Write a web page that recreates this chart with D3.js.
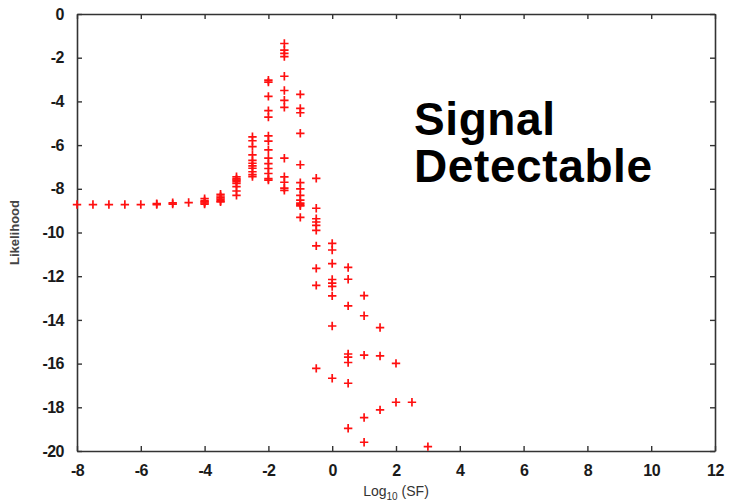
<!DOCTYPE html>
<html>
<head>
<meta charset="utf-8">
<script src="https://cdn.jsdelivr.net/npm/d3@7/dist/d3.min.js"></script>
<style>
  html, body { margin: 0; padding: 0; background: #fff; }
  svg { display: block; }
</style>
</head>
<body>
<script>
// log10 of the scale factor, one column of likelihood samples per value
const logSF = [-8, -7.5, -7, -6.5, -6, -5.5, -5, -4.5, -4, -3.5, -3, -2.5, -2, -1.5, -1, -0.5, 0, 0.5, 1, 1.5, 2, 2.5, 3];

const likelihood = [
  [-8.72],
  [-8.72],
  [-8.72],
  [-8.72],
  [-8.72],
  [-8.68, -8.72],
  [-8.64, -8.7],
  [-8.63],
  [-8.45, -8.55, -8.6, -8.65, -8.7],
  [-8.25, -8.33, -8.4, -8.47, -8.55, -8.6],
  [-7.45, -7.55, -7.6, -7.67, -7.75, -7.9, -8.1, -8.3],
  [-5.62, -5.8, -6.07, -6.45, -6.7, -6.83, -6.95, -7.06, -7.22, -7.35, -7.44],
  [-3.03, -3.12, -3.77, -4.42, -4.72, -5.58, -5.82, -6.22, -6.6, -6.85, -7.07, -7.3, -7.53, -7.6],
  [-1.35, -1.65, -1.8, -1.95, -2.85, -3.5, -3.95, -4.27, -6.6, -7.45, -7.7, -7.97, -8.07],
  [-3.68, -4.32, -4.52, -5.46, -6.9, -7.72, -8.0, -8.3, -8.52, -8.66, -8.72, -8.78, -9.31],
  [-7.52, -8.89, -9.37, -9.52, -9.67, -9.9, -10.61, -11.64, -12.42, -16.22],
  [-10.5, -10.8, -11.42, -12.15, -12.32, -12.47, -12.9, -14.28, -16.67],
  [-11.6, -12.14, -13.36, -15.56, -15.7, -15.95, -16.9, -18.96],
  [-12.89, -13.81, -15.61, -18.47, -19.6],
  [-14.35, -15.65, -18.12],
  [-15.99, -17.77],
  [-17.77],
  [-19.8]
];

const xTicks = [-8, -6, -4, -2, 0, 2, 4, 6, 8, 10, 12];
const yTicks = [0, -2, -4, -6, -8, -10, -12, -14, -16, -18, -20];

const W = 729, H = 503;
const plot = { left: 77, right: 715, top: 14, bottom: 451 };

const svg = d3.select("body").append("svg")
  .attr("width", W).attr("height", H);

const x = d3.scaleLinear().domain([-8, 12]).range([plot.left, plot.right]);
const y = d3.scaleLinear().domain([-20, 0]).range([plot.bottom, plot.top]);

const tickFont = "'Liberation Sans', Arial, sans-serif";
const axisColor = "#333";

// frame axes with inward ticks on all four sides
const bottomAxis = d3.axisBottom(x).tickValues(xTicks).tickSizeInner(-5).tickSizeOuter(0).tickPadding(14);
const topAxis = d3.axisTop(x).tickValues(xTicks).tickSizeInner(-5).tickSizeOuter(0).tickFormat("");
const leftAxis = d3.axisLeft(y).tickValues(yTicks).tickSizeInner(-5).tickSizeOuter(0).tickPadding(13);
const rightAxis = d3.axisRight(y).tickValues(yTicks).tickSizeInner(-5).tickSizeOuter(0).tickFormat("");

function styleAxis(g) {
  g.select(".domain").attr("stroke", axisColor).attr("stroke-width", 1.6);
  g.selectAll(".tick line").attr("stroke", axisColor).attr("stroke-width", 1.4);
  g.selectAll(".tick text")
    .attr("fill", "#1a1a1a")
    .style("font-family", tickFont)
    .style("font-size", "16px")
    .style("font-weight", "bold")
    .style("letter-spacing", "-0.5px");
}

svg.append("g").attr("transform", `translate(0,${plot.bottom})`).call(bottomAxis).call(styleAxis);
svg.append("g").attr("transform", `translate(0,${plot.top})`).call(topAxis).call(styleAxis);
svg.append("g").attr("transform", `translate(${plot.left},0)`).call(leftAxis).call(styleAxis);
svg.append("g").attr("transform", `translate(${plot.right},0)`).call(rightAxis).call(styleAxis);

// plain hyphen for negative tick labels
svg.selectAll(".tick text").text(function() { return d3.select(this).text().replace("\u2212", "-"); });

// scatter of red plus markers
const points = [];
logSF.forEach((lx, i) => likelihood[i].forEach(v => points.push([lx, v])));

const arm = 4.2;
svg.append("g").selectAll("path.pt")
  .data(points)
  .join("path")
  .attr("class", "pt")
  .attr("d", d => {
    const px = x(d[0]), py = y(d[1]);
    return `M${px - arm},${py}H${px + arm}M${px},${py - arm}V${py + arm}`;
  })
  .attr("stroke", "#ff1010")
  .attr("stroke-width", 1.7)
  .attr("fill", "none");

// axis titles
const xt = svg.append("text")
  .attr("x", (plot.left + plot.right) / 2)
  .attr("y", 496)
  .attr("text-anchor", "middle")
  .attr("fill", "#333")
  .style("font-family", tickFont)
  .style("font-size", "14px");
xt.append("tspan").text("Log");
xt.append("tspan").attr("dy", 4).style("font-size", "10px").text("10");
xt.append("tspan").attr("dy", -4).text(" (SF)");

svg.append("text")
  .attr("transform", `translate(19,${(plot.top + plot.bottom) / 2}) rotate(-90)`)
  .attr("text-anchor", "middle")
  .attr("fill", "#444")
  .style("font-family", tickFont)
  .style("font-size", "13px")
  .style("font-weight", "bold")
  .text("Likelihood");

// annotation, two lines
const noteLines = ["Signal", "Detectable"];
svg.append("g").selectAll("text.note")
  .data(noteLines)
  .join("text")
  .attr("class", "note")
  .attr("x", 414)
  .attr("y", (d, i) => 135 + i * 47)
  .attr("fill", "#000")
  .style("font-family", tickFont)
  .style("font-size", "46px")
  .style("font-weight", "bold")
  .style("letter-spacing", "0.6px")
  .text(d => d);
</script>
</body>
</html>
